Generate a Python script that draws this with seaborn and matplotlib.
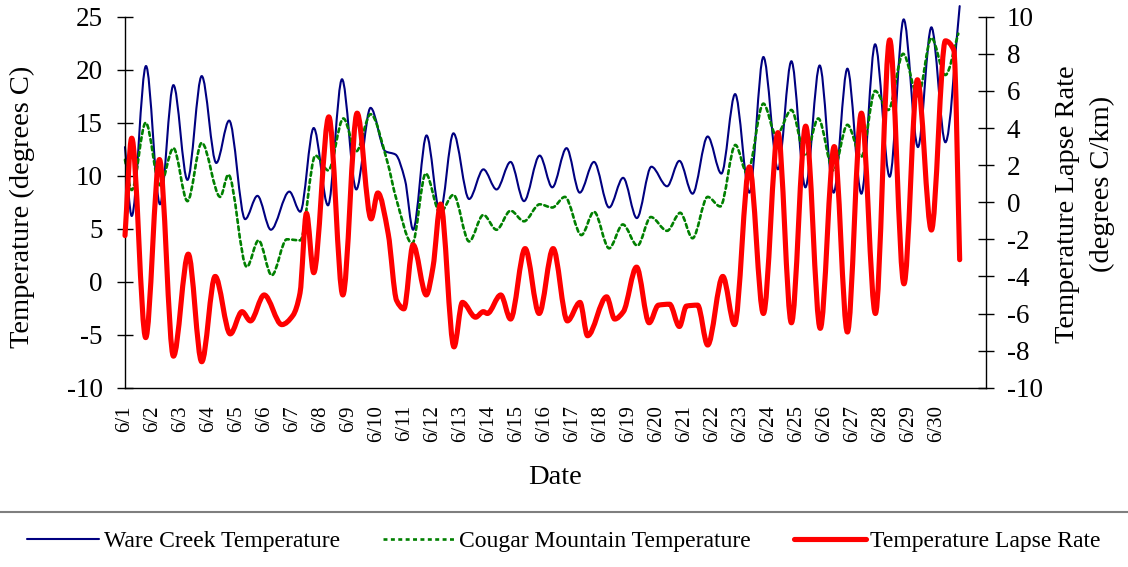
import numpy as np
import matplotlib
matplotlib.use("Agg")
import matplotlib.pyplot as plt
from matplotlib.path import Path
from matplotlib.patches import PathPatch
from matplotlib.lines import Line2D
import seaborn as sns

# ---- data: days since 6/1 00:00 and readings at the daily highs/lows ----
ware_day = [0.00, 0.24, 0.75, 1.25, 1.73, 2.23, 2.74, 3.26, 3.72, 4.29, 4.73, 5.21,
            5.87, 6.26, 6.74, 7.25, 7.75, 8.26, 8.77, 9.30, 9.66, 10.00, 10.29, 10.77,
            11.25, 11.73, 12.29, 12.80, 13.27, 13.77, 14.25, 14.81, 15.26, 15.77, 16.24,
            16.75, 17.29, 17.79, 18.28, 18.80, 19.36, 19.80, 20.27, 20.81, 21.30, 21.79,
            22.30, 22.80, 23.32, 23.80, 24.30, 24.81, 25.31, 25.80, 26.30, 26.79, 27.31,
            27.81, 28.32, 28.80, 29.30, 29.81]
ware_temp = [12.7, 6.2, 20.35, 7.3, 18.55, 9.6, 19.4, 11.2, 15.2, 5.9, 8.1, 4.9,
             8.5, 6.6, 14.5, 7.2, 19.1, 8.7, 16.4, 12.3, 12.0, 9.6, 4.9, 13.8,
             6.5, 14.0, 7.8, 10.6, 8.7, 11.3, 7.6, 11.9, 8.9, 12.6, 8.4,
             11.3, 7.0, 9.8, 6.0, 10.85, 9.0, 11.4, 8.3, 13.7, 10.2, 17.7,
             8.4, 21.2, 10.6, 20.8, 8.9, 20.4, 8.4, 20.1, 8.3, 22.4, 9.9,
             24.75, 12.7, 24.0, 13.15, 26.0]

cougar_day = [0.00, 0.24, 0.74, 1.25, 1.73, 2.23, 2.74, 3.40, 3.69, 4.35, 4.77, 5.24,
              5.78, 6.26, 6.80, 7.26, 7.80, 8.26, 8.77, 9.35, 9.70, 10.26, 10.74, 11.25,
              11.73, 12.29, 12.80, 13.27, 13.77, 14.25, 14.81, 15.26, 15.71, 16.30, 16.75,
              17.29, 17.78, 18.30, 18.78, 19.36, 19.83, 20.27, 20.81, 21.26, 21.80, 22.22,
              22.80, 23.26, 23.80, 24.30, 24.76, 25.30, 25.80, 26.30, 26.79, 27.26, 27.79,
              28.32, 28.80, 29.30, 29.76]
cougar_temp = [11.5, 8.65, 15.0, 9.1, 12.6, 7.6, 13.1, 8.0, 10.1, 1.4, 3.9, 0.6,
               4.0, 3.9, 11.9, 10.5, 15.4, 12.3, 15.8, 11.5, 7.7, 3.6, 10.2, 6.5,
               8.2, 3.8, 6.3, 4.9, 6.7, 5.7, 7.3, 7.0, 8.0, 4.4, 6.6,
               3.15, 5.4, 3.4, 6.1, 4.8, 6.5, 4.1, 8.0, 7.1, 12.9, 10.2,
               16.8, 13.8, 16.2, 11.9, 15.4, 10.5, 14.8, 11.8, 18.0, 16.2, 21.5,
               17.5, 23.0, 19.5, 23.4]

lapse_day = [0.00, 0.24, 0.74, 1.23, 1.73, 2.26, 2.74, 3.22, 3.76, 4.18, 4.48, 4.97,
             5.60, 6.00, 6.25, 6.48, 6.74, 7.28, 7.78, 8.29, 8.79, 9.03, 9.40, 9.70,
             9.96, 10.29, 10.76, 11.00, 11.27, 11.75, 12.05, 12.52, 12.80, 12.94, 13.42,
             13.77, 14.29, 14.79, 15.29, 15.80, 16.25, 16.52, 17.20, 17.49, 17.80, 18.27,
             18.72, 19.05, 19.45, 19.80, 20.05, 20.45, 20.81, 21.35, 21.77, 22.30, 22.80,
             23.32, 23.80, 24.31, 24.83, 25.33, 25.80, 26.30, 26.80, 27.31, 27.82, 28.30,
             28.80, 29.30, 29.60, 29.81]
lapse_rate = [-1.8, 3.45, -7.3, 2.3, -8.3, -2.8, -8.6, -4.0, -7.1, -5.9, -6.4, -5.0,
              -6.6, -6.1, -4.9, -0.6, -3.8, 4.6, -5.0, 4.8, -0.9, 0.5, -1.7, -5.3,
              -5.75, -2.3, -5.0, -3.5, -0.1, -7.8, -5.4, -6.2, -5.9, -6.0, -5.0,
              -6.3, -2.5, -6.0, -2.5, -6.4, -5.4, -7.2, -5.1, -6.3, -5.9, -3.5,
              -6.5, -5.55, -5.5, -6.7, -5.6, -5.55, -7.7, -4.0, -6.6, 1.9, -6.0,
              3.75, -6.5, 4.1, -6.8, 3.0, -7.0, 4.8, -6.0, 8.75, -4.4, 6.6,
              -1.5, 8.7, 8.2, -3.1]

day_labels = ["6/1", "6/2", "6/3", "6/4", "6/5", "6/6", "6/7", "6/8", "6/9", "6/10",
              "6/11", "6/12", "6/13", "6/14", "6/15", "6/16", "6/17", "6/18", "6/19",
              "6/20", "6/21", "6/22", "6/23", "6/24", "6/25", "6/26", "6/27", "6/28",
              "6/29", "6/30", ""]
temp_ticks = [-10, -5, 0, 5, 10, 15, 20, 25]
rate_ticks = [-10, -8, -6, -4, -2, 0, 2, 4, 6, 8, 10]

series_names = ["Ware Creek Temperature", "Cougar Mountain Temperature",
                "Temperature Lapse Rate"]


def smooth_path(x, y):
    """Monotone cubic (Fritsch-Carlson) curve through the points, as Bezier segments."""
    x = np.asarray(x, float)
    y = np.asarray(y, float)
    h = np.diff(x)
    d = np.diff(y) / h
    m = np.zeros_like(y)
    m[0], m[-1] = d[0], d[-1]
    for k in range(1, len(y) - 1):
        if d[k - 1] * d[k] > 0:
            w1 = 2 * h[k] + h[k - 1]
            w2 = h[k] + 2 * h[k - 1]
            m[k] = (w1 + w2) / (w1 / d[k - 1] + w2 / d[k])
    verts = [(x[0], y[0])]
    codes = [Path.MOVETO]
    for k in range(len(h)):
        verts += [(x[k] + h[k] / 3, y[k] + m[k] * h[k] / 3),
                  (x[k + 1] - h[k] / 3, y[k + 1] - m[k + 1] * h[k] / 3),
                  (x[k + 1], y[k + 1])]
        codes += [Path.CURVE4] * 3
    return Path(verts, codes)


sns.set_style("white")
plt.rcParams["font.family"] = ["Liberation Serif", "DejaVu Serif"]
plt.rcParams["axes.unicode_minus"] = False
plt.rcParams["text.color"] = "black"

W, H = 1128, 567
fig = plt.figure(figsize=(W / 100, H / 100), dpi=100)
left, right, top, bottom = 125, 986, 16.7, 387.7
ax = fig.add_axes([left / W, 1 - bottom / H, (right - left) / W, (bottom - top) / H])
ax2 = ax.twinx()

styles = [
    dict(color="#000080", lw=1.5, ls="-"),
    dict(color="#008000", lw=1.9, ls=(0, (1.5, 1.3))),
    dict(color="#FF0000", lw=3.7, ls="-"),
]

for target, xs, ys, st in [(ax, ware_day, ware_temp, styles[0]),
                           (ax, cougar_day, cougar_temp, styles[1]),
                           (ax2, lapse_day, lapse_rate, styles[2])]:
    patch = PathPatch(smooth_path(xs, ys), fill=False, edgecolor=st["color"],
                      lw=st["lw"], linestyle=st["ls"], capstyle="round",
                      joinstyle="round", clip_on=False)
    target.add_patch(patch)

ax.set_xlim(0, 30.75)
ax.set_ylim(-10, 25)
ax2.set_ylim(-10, 10)

ax.set_xticks(range(len(day_labels)))
ax.set_xticklabels(day_labels, rotation=90, fontsize=15)
ax.set_yticks(temp_ticks)
ax.set_yticklabels([str(t) for t in temp_ticks], fontsize=19.5)
ax2.set_yticks(rate_ticks)
ax2.set_yticklabels([str(t) for t in rate_ticks], fontsize=19.5)

ax.tick_params(axis="x", direction="inout", length=11, width=1, pad=7, colors="black")
ax.tick_params(axis="y", direction="inout", length=12, width=1, pad=10, colors="black")
ax2.tick_params(axis="y", direction="inout", length=12, width=1, pad=9, colors="black")

for a in (ax, ax2):
    a.spines["top"].set_visible(False)
    for s in a.spines.values():
        s.set_color("black")
        s.set_linewidth(1.0)
ax.spines["right"].set_visible(False)
ax2.spines["left"].set_visible(False)
ax2.spines["bottom"].set_visible(False)
ax.grid(False)
ax2.grid(False)

# axis titles
fig.text(555 / W, 1 - 477 / H, "Date", fontsize=20.5, ha="center", va="center",
         color="black")
fig.text(22.5 / W, 1 - 207 / H, "Temperature (degrees C)", fontsize=20.5,
         rotation=90, ha="center", va="center", color="black")
fig.text(1068 / W, 1 - 204 / H, "Temperature Lapse Rate", fontsize=20.5,
         rotation=90, ha="center", va="center", color="black")
fig.text(1102 / W, 1 - 184 / H, "(degrees C/km)", fontsize=20.5,
         rotation=90, ha="center", va="center", color="black")

# legend strip under the chart
fig.add_artist(Line2D([0, 1], [1 - 512 / H] * 2, transform=fig.transFigure,
                      color="#7f7f7f", lw=1.5))
handles = [Line2D([], [], color=st["color"], lw=st["lw"], ls=st["ls"]) for st in styles]
leg = fig.legend(handles, series_names, loc="center", bbox_to_anchor=(0.5, 1 - 541 / H),
                 ncol=3, frameon=False, fontsize=17, handlelength=3.05,
                 handletextpad=0.2, columnspacing=1.8)
for t in leg.get_texts():
    t.set_color("black")

fig.savefig("out.png", dpi=100)
